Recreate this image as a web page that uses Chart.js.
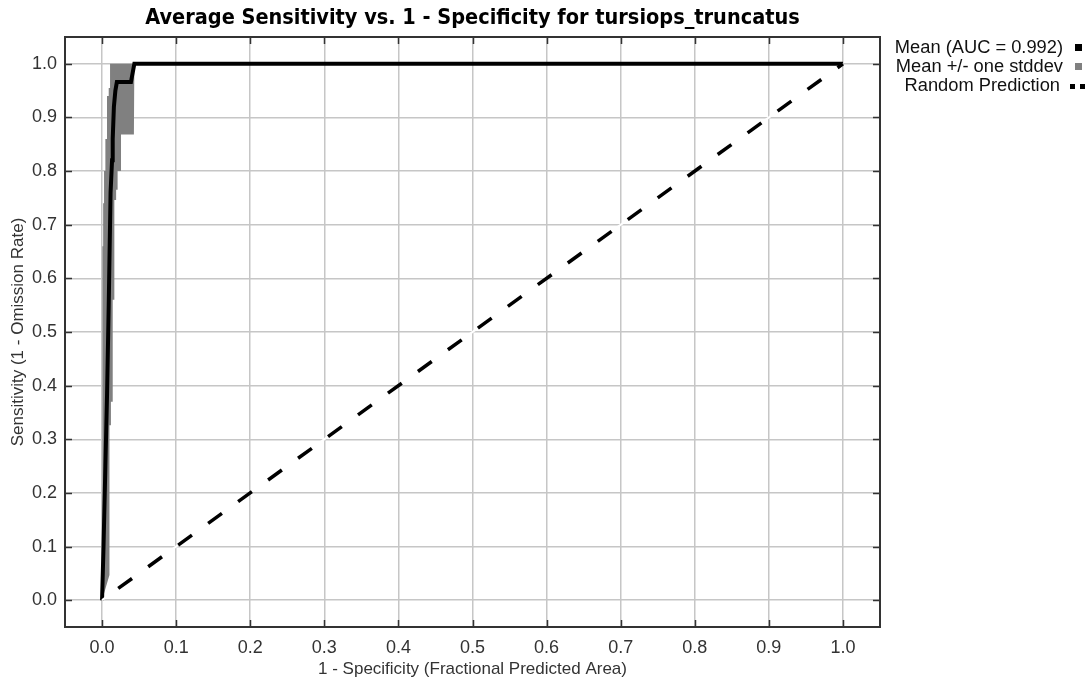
<!DOCTYPE html>
<html>
<head>
<meta charset="utf-8">
<script src="https://cdn.jsdelivr.net/npm/chart.js@4.4.1/dist/chart.umd.min.js"></script>
<style>
  html, body { margin: 0; padding: 0; background: #ffffff; }
  #wrap { width: 1091px; height: 686px; }
</style>
</head>
<body>
<div id="wrap"><canvas id="roc" width="1091" height="686"></canvas></div>
<script>
// ROC summary for tursiops_truncatus: mean curve, +/- one stddev band, random baseline
const TITLE_TEXT = 'Average Sensitivity vs. 1 - Specificity for tursiops_truncatus';
const X_TITLE = '1 - Specificity (Fractional Predicted Area)';
const Y_TITLE = 'Sensitivity (1 - Omission Rate)';

const TICKS = [0, 0.1, 0.2, 0.3, 0.4, 0.5, 0.6, 0.7, 0.8, 0.9, 1.0];
const TICK_LABELS = ['0.0', '0.1', '0.2', '0.3', '0.4', '0.5', '0.6', '0.7', '0.8', '0.9', '1.0'];

// mean sensitivity vs fractional predicted area
const MEAN_X = [0, 0.002, 0.0045, 0.0067, 0.009, 0.0115, 0.0135, 0.0144, 0.016, 0.018, 0.02, 0.039, 0.0436, 1.0];
const MEAN_Y = [0, 0.10, 0.25, 0.38, 0.55, 0.76, 0.82, 0.86, 0.92, 0.95, 0.966, 0.966, 1.0, 1.0];

// mean + one stddev (capped at 1)
const UPPER_X = [0, 0.0005, 0.0015, 0.0015, 0.0027, 0.0027, 0.0045, 0.0045, 0.0067, 0.0067, 0.009, 0.009, 0.0108, 0.0108, 1.0];
const UPPER_Y = [0, 0.66, 0.66, 0.74, 0.74, 0.80, 0.80, 0.86, 0.86, 0.94, 0.94, 0.955, 0.955, 1.0, 1.0];

// mean - one stddev
const LOWER_X = [0, 0.010, 0.010, 0.012, 0.012, 0.0144, 0.0144, 0.0166, 0.0166, 0.019, 0.019, 0.021, 0.021, 0.0256, 0.0256, 0.043, 0.0436, 1.0];
const LOWER_Y = [0, 0.047, 0.326, 0.326, 0.37, 0.37, 0.56, 0.56, 0.746, 0.746, 0.765, 0.765, 0.80, 0.80, 0.868, 0.868, 1.0, 1.0];

const RANDOM_X = [0, 1];
const RANDOM_Y = [0, 1];

const LEGEND_LABELS = ['Mean (AUC = 0.992)', 'Mean +/- one stddev', 'Random Prediction'];

const toPoints = (xs, ys) => xs.map((x, i) => ({ x: x, y: ys[i] }));
// closed outline of the stddev band: upper edge forward, lower edge back
const bandOutline = toPoints(UPPER_X, UPPER_Y).concat(toPoints(LOWER_X, LOWER_Y).reverse());

const FONT = "'Liberation Sans', Arial, Helvetica, sans-serif";
const TEXT_COLOR = '#333333';

const frameAndTicks = {
  id: 'frameAndTicks',
  afterDatasetsDraw(chart) {
    const { ctx, chartArea: a, scales } = chart;
    ctx.save();
    ctx.strokeStyle = '#333333';
    ctx.lineWidth = 1.5;
    const len = 7;
    ctx.beginPath();
    TICKS.forEach(v => {
      const px = Math.round(scales.x.getPixelForValue(v)) + 0.5;
      ctx.moveTo(px, a.bottom); ctx.lineTo(px, a.bottom - len);
      ctx.moveTo(px, a.top); ctx.lineTo(px, a.top + len);
      const py = Math.round(scales.y.getPixelForValue(v)) + 0.5;
      ctx.moveTo(a.left, py); ctx.lineTo(a.left + len, py);
      ctx.moveTo(a.right, py); ctx.lineTo(a.right - len, py);
    });
    ctx.stroke();
    ctx.lineWidth = 2;
    ctx.strokeRect(a.left, a.top, a.right - a.left, a.bottom - a.top);
    ctx.restore();
  }
};

const sideLegend = {
  id: 'sideLegend',
  afterDraw(chart) {
    const { ctx, chartArea: a } = chart;
    ctx.save();
    ctx.font = '18.3px ' + FONT;
    ctx.fillStyle = '#111111';
    ctx.textAlign = 'right';
    ctx.textBaseline = 'middle';
    const textRight = a.right + 183;
    const rows = [48, 67, 86];
    LEGEND_LABELS.forEach((label, i) => ctx.fillText(label, textRight - (i === 2 ? 3 : 0), rows[i]));
    ctx.fillStyle = '#000000';
    ctx.fillRect(textRight + 12, rows[0] - 4, 7, 7);
    ctx.fillStyle = '#808080';
    ctx.fillRect(textRight + 12, rows[1] - 4, 7, 7);
    ctx.fillStyle = '#000000';
    ctx.fillRect(textRight + 7, rows[2] - 2, 5, 5);
    ctx.fillRect(textRight + 17, rows[2] - 2, 5, 5);
    ctx.restore();
  }
};

const axisCommon = (title, pad, fit) => ({
  type: 'linear',
  min: -0.05,
  max: 1.05,
  afterBuildTicks: s => { s.ticks = TICKS.map(v => ({ value: v })); },
  afterFit: fit,
  grid: { color: '#c6c6c6', lineWidth: 1.5, drawTicks: false },
  border: { display: false },
  ticks: {
    autoSkip: false,
    maxRotation: 0,
    padding: pad,
    color: TEXT_COLOR,
    font: { family: FONT, size: 18 },
    callback: (v, i) => TICK_LABELS[i]
  },
  title: {
    display: true,
    text: title,
    color: TEXT_COLOR,
    font: { family: FONT, size: 17 }
  }
});

const xAxis = axisCommon(X_TITLE, 10, s => { s.height = 59; });
xAxis.title.padding = { top: 0, bottom: 6 };
const yAxis = axisCommon(Y_TITLE, 8, s => { s.width = 65; });
yAxis.title.padding = { top: 8, bottom: 0 };

new Chart(document.getElementById('roc'), {
  type: 'line',
  data: {
    datasets: [
      {
        label: LEGEND_LABELS[1],
        data: bandOutline,
        fill: 'shape',
        backgroundColor: '#808080',
        borderWidth: 0,
        pointRadius: 0,
        tension: 0,
        order: 5
      },
      {
        label: LEGEND_LABELS[0],
        data: toPoints(MEAN_X, MEAN_Y),
        borderColor: '#000000',
        borderWidth: 4,
        borderJoinStyle: 'miter',
        pointRadius: 0,
        tension: 0,
        fill: false,
        order: 4
      },
      {
        label: 'random-base',
        data: toPoints(RANDOM_X, RANDOM_Y),
        borderColor: '#ffffff',
        borderWidth: 2,
        pointRadius: 0,
        fill: false,
        order: 2
      },
      {
        label: LEGEND_LABELS[2],
        data: toPoints(RANDOM_X, RANDOM_Y),
        borderColor: '#000000',
        borderWidth: 3.5,
        borderDash: [17, 20],
        borderDashOffset: 17,
        pointRadius: 0,
        fill: false,
        order: 1
      }
    ]
  },
  options: {
    responsive: false,
    animation: false,
    devicePixelRatio: 1,
    layout: { padding: { top: 0, right: 211, left: 0, bottom: 0 } },
    plugins: {
      legend: { display: false },
      tooltip: { enabled: false },
      title: {
        display: true,
        text: TITLE_TEXT,
        fullSize: false,
        color: '#000000',
        font: { family: "'Liberation Sans Narrow', 'DejaVu Sans Condensed', " + FONT, size: 21.5, weight: 'bold', lineHeight: 1.2 },
        padding: { top: 6, bottom: 5.2 }
      }
    },
    scales: { x: xAxis, y: yAxis }
  },
  plugins: [frameAndTicks, sideLegend]
});
</script>
</body>
</html>
